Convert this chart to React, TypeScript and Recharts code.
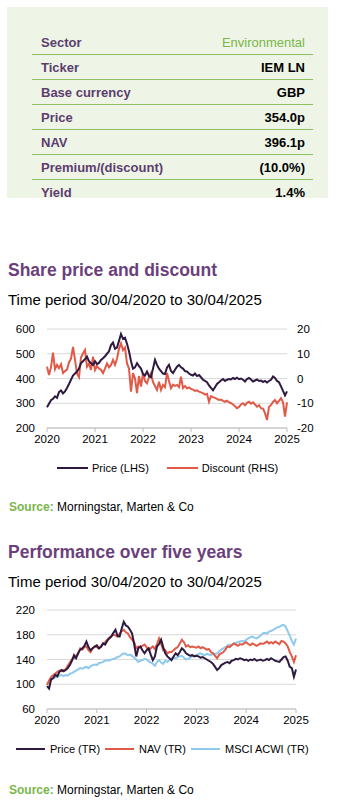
import React from "react";
import { LineChart, Line, XAxis, YAxis, CartesianGrid, Legend } from "recharts";

const FONT = "'Liberation Sans', Arial, Helvetica, sans-serif";
const HEAD = "#6b3f7b";
const LABEL = "#5c3d6e";
const GREEN = "#7ab648";
const PRICE_C = "#2e1a40";
const RED_C = "#e05a47";
const BLUE_C = "#8fc9ec";

// key facts table
const factLabels = ["Sector", "Ticker", "Base currency", "Price", "NAV", "Premium/(discount)", "Yield"];
const factValues = ["Environmental", "IEM LN", "GBP", "354.0p", "396.1p", "(10.0%)", "1.4%"];

// x axis: semi-monthly points 30/04/2020 .. 30/04/2025, labelled 2020..2025
const yearTicks = [2020, 2021, 2022, 2023, 2024, 2025];
const dates = Array.from({ length: 121 }, (_, i) => 2020 + i / 24);

// share price (p, LHS) and discount (%, RHS)
const sharePrice = [
  284, 298, 312, 318, 328, 322, 345, 352, 340, 348,
  362, 378, 395, 412, 420, 428, 440, 462, 470, 478,
  488, 470, 462, 455, 470, 458, 463, 475, 482, 490,
  500, 510, 535, 545, 520, 525, 552, 580, 560, 565,
  540, 510, 470, 440, 445, 462, 450, 440, 418, 412,
  428, 410, 405, 440, 475, 455, 440, 430, 420, 418,
  445, 455, 430, 422, 435, 448, 455, 445, 440, 430,
  428, 420, 415, 412, 420, 410, 414, 405, 395, 390,
  385, 372, 362, 352, 365, 378, 385, 392, 398, 390,
  395, 398, 396, 402, 398, 403, 397, 400, 395, 388,
  398, 402, 396, 388, 392, 396, 390, 392, 386, 390,
  384, 390, 395, 408, 402, 390, 385, 368, 350, 332,
  348,
];
const discount = [
  4.8, 1.4, 4.5, 10.5, 3.8, 5.5, 4.2, 5.8, 2.2, 3.0,
  3.6, 6.5, 8.0, 12.8, 7.5, 2.0, 0.5, 8.5, 10.2, 11.5,
  4.8, 6.0, 3.5, 8.8, 3.4, 5.0, 4.0, 3.5, 2.2, 4.0,
  6.1, 4.5, 5.5, 7.5, 5.5, 8.0, 12.0, 14.2, 11.5, 12.5,
  6.1, 4.0, -5.3, 2.2, 0.0, -5.9, 1.0, -3.3, 2.2, -1.0,
  -1.9, 0.5, 2.2, -1.5, -3.0, -4.6, -1.3, -4.6, -2.6, -3.5,
  2.2, -1.0, -3.9, -2.5, -3.0, -2.6, -3.5, 0.7, -3.9, -3.0,
  -4.0, -3.6, -4.2, -4.5, -5.0, -4.8, -5.3, -5.6, -5.9, -6.5,
  -6.2, -9.4, -7.1, -7.5, -7.8, -8.2, -8.7, -8.5, -9.0, -9.4,
  -9.0, -9.6, -10.0, -10.5, -11.2, -12.0, -11.5, -10.5, -10.0, -10.8,
  -9.8, -9.4, -10.2, -9.6, -10.5, -11.4, -10.8, -12.0, -12.2, -14.0,
  -16.8, -11.5, -10.7, -9.5, -8.7, -10.0, -9.0, -7.9, -9.5, -15.4,
  -9.6,
];

// total return, rebased to 100
const priceTR = [
  97, 93, 108, 110, 115, 113, 120, 123, 121, 123,
  126, 131, 138, 147, 142, 150, 156, 158, 162, 169,
  160, 155, 158, 161, 163, 158, 160, 166, 164, 170,
  174, 177, 183, 188, 178, 177, 190, 201, 195, 193,
  188, 182, 165, 145, 158, 161, 155, 150, 155, 158,
  148, 139, 145, 161, 165, 172, 160, 150, 145, 142,
  139, 145, 150, 147, 152, 158, 155, 150, 148, 146,
  147, 145, 146, 145, 143, 144, 142, 140, 138, 136,
  133, 128, 123, 126, 131, 133, 135, 136, 134, 138,
  139, 141, 140, 142, 141, 139, 140, 138, 140, 139,
  141, 138, 139, 140, 138, 139, 141, 139, 142, 140,
  138, 137, 136, 140, 144, 145, 138, 128, 126, 112,
  124,
];
const navTR = [
  99, 106, 112, 115, 117, 120, 122, 121, 123, 124,
  130, 135, 140, 142, 146, 150, 158, 156, 160, 161,
  155, 152, 158, 161, 160, 158, 162, 165, 168, 172,
  175, 178, 180, 179, 177, 182, 186, 188, 184, 182,
  176, 172, 168, 158, 161, 160, 162, 164, 160, 155,
  158, 161, 157, 165, 174, 165, 155, 155, 150, 152,
  152, 155, 158, 160, 166, 172, 168, 161, 163, 160,
  161, 160, 159, 161, 158, 160, 158, 156, 157, 152,
  150, 146, 142, 148, 150, 152, 156, 161, 160, 163,
  166, 164, 162, 165, 164, 166, 168, 165, 163, 166,
  164, 162, 164, 166, 165, 167, 169, 166, 168, 166,
  169, 167, 165, 170, 169, 166, 161, 152, 145, 136,
  147,
];
const msciTR = [
  99, 104, 107, 109, 111, 112, 114, 115, 113, 115,
  114, 117, 118, 120, 122, 124, 126, 125, 127, 128,
  126, 129, 131, 132, 131, 134, 135, 136, 138, 139,
  138, 140, 141, 142, 144, 145, 148, 150, 149, 147,
  148, 146, 143, 140, 136, 138, 139, 141, 140, 137,
  135, 133, 130, 136, 139, 135, 133, 138, 136, 139,
  141, 143, 142, 144, 145, 146, 143, 140, 141, 143,
  145, 146, 147, 149, 150, 148, 147, 149, 148, 147,
  150, 149, 150, 153, 156, 158, 160, 162, 164, 163,
  165, 167, 168, 169, 170, 169, 172, 174, 176, 177,
  175, 174, 176, 179, 182, 183, 182, 185, 186, 188,
  190, 192, 193, 195, 196, 193, 186, 178, 170, 164,
  174,
];

const priceTicks = [200, 300, 400, 500, 600];
const discountTicks = [-20, -10, 0, 10, 20];
const perfTicks = [60, 100, 140, 180, 220];

const discountData = dates.map((t, i) => ({ t, price: sharePrice[i], discount: discount[i] }));
const perfData = dates.map((t, i) => ({ t, price: priceTR[i], nav: navTR[i], msci: msciTR[i] }));

const tickStyle = { fontSize: 11.5, fill: "#000", fontFamily: FONT };

function LegendRow({ items, padLeft, itemGap, lineW, lineGap }: any) {
  return (
    <div style={{ display: "flex", alignItems: "center", paddingLeft: padLeft, gap: itemGap, fontFamily: FONT, fontSize: 11, color: "#000", height: 16 }}>
      {items.map((it: any) => (
        <div key={it.label} style={{ display: "flex", alignItems: "center", gap: lineGap }}>
          <span style={{ display: "inline-block", width: lineW, height: 2, background: it.color }} />
          <span>{it.label}</span>
        </div>
      ))}
    </div>
  );
}

function Source({ top }: { top: number }) {
  return (
    <div style={{ position: "absolute", left: 9, top, fontSize: 12, lineHeight: "14px", color: "#000" }}>
      <b style={{ color: GREEN }}>Source:</b> Morningstar, Marten &amp; Co
    </div>
  );
}

function Heading({ top, text }: { top: number; text: string }) {
  return (
    <div style={{ position: "absolute", left: 8, top, fontSize: 17.5, fontWeight: 700, color: HEAD, lineHeight: "20px" }}>{text}</div>
  );
}

function Period({ top }: { top: number }) {
  return (
    <div style={{ position: "absolute", left: 8, top, fontSize: 15, color: "#000", lineHeight: "18px" }}>
      Time period 30/04/2020 to 30/04/2025
    </div>
  );
}

export default function App() {
  return (
    <div style={{ position: "absolute", left: 0, top: 0, width: 337, height: 806, background: "#fff", fontFamily: FONT, overflow: "hidden" }}>
      <div style={{ position: "absolute", left: 7, top: 7, width: 321, height: 191, background: "#eef5e7" }} />
      <div style={{ position: "absolute", left: 32, top: 30, width: 281 }}>
        {factLabels.map((label, i) => (
          <div
            key={label}
            style={{
              height: 25,
              boxSizing: "border-box",
              borderBottom: i < factLabels.length - 1 ? "1.5px solid #8cc063" : "none",
              display: "flex",
              alignItems: "center",
              justifyContent: "space-between",
              padding: "0 8px 0 9px",
              fontSize: 13,
            }}
          >
            <span style={{ color: LABEL, fontWeight: 700 }}>{label}</span>
            <span style={{ color: i === 0 ? GREEN : "#000", fontWeight: i === 0 ? 400 : 700 }}>{factValues[i]}</span>
          </div>
        ))}
      </div>

      <Heading top={260} text="Share price and discount" />
      <Period top={291} />

      <div style={{ position: "absolute", left: 0, top: 319 }}>
        <LineChart width={337} height={160} data={discountData} margin={{ top: 10, right: 0, bottom: 21, left: 0 }}>
          <CartesianGrid yAxisId="left" horizontal vertical={false} stroke="#d9d9d9" />
          <XAxis
            dataKey="t"
            type="number"
            domain={[2020, 2025]}
            ticks={yearTicks}
            interval={0}
            height={30}
            tick={tickStyle}
            tickSize={4}
            tickMargin={3}
            axisLine={{ stroke: "#bfbfbf" }}
            tickLine={{ stroke: "#bfbfbf" }}
          />
          <YAxis yAxisId="left" width={47} domain={[200, 600]} ticks={priceTicks} tick={tickStyle} axisLine={false} tickLine={false} tickSize={0} tickMargin={12} />
          <YAxis yAxisId="right" orientation="right" width={50} domain={[-20, 20]} ticks={discountTicks} tick={{ ...tickStyle, textAnchor: "start" }} axisLine={false} tickLine={false} tickSize={0} tickMargin={10} />
          <Line yAxisId="right" dataKey="discount" name="Discount (RHS)" stroke={RED_C} strokeWidth={2} dot={false} isAnimationActive={false} />
          <Line yAxisId="left" dataKey="price" name="Price (LHS)" stroke={PRICE_C} strokeWidth={2} dot={false} isAnimationActive={false} />
          <Legend
            verticalAlign="middle"
            align="center"
            layout="horizontal"
            wrapperStyle={{ top: 141, left: 0, width: 337, height: 16 }}
            content={() => (
              <LegendRow
                padLeft={57}
                itemGap={18}
                lineW={31}
                lineGap={4}
                items={[
                  { label: "Price (LHS)", color: PRICE_C },
                  { label: "Discount (RHS)", color: RED_C },
                ]}
              />
            )}
          />
        </LineChart>
      </div>

      <Source top={500} />

      <Heading top={542} text="Performance over five years" />
      <Period top={573} />

      <div style={{ position: "absolute", left: 0, top: 600 }}>
        <LineChart width={337} height={160} data={perfData} margin={{ top: 10, right: 41, bottom: 21, left: 0 }}>
          <CartesianGrid horizontal vertical={false} stroke="#d9d9d9" />
          <XAxis
            dataKey="t"
            type="number"
            domain={[2020, 2025]}
            ticks={yearTicks}
            interval={0}
            height={30}
            tick={tickStyle}
            tickSize={4}
            tickMargin={3}
            axisLine={{ stroke: "#bfbfbf" }}
            tickLine={{ stroke: "#bfbfbf" }}
          />
          <YAxis width={47} domain={[60, 220]} ticks={perfTicks} tick={tickStyle} axisLine={false} tickLine={false} tickSize={0} tickMargin={12} />
          <Line dataKey="msci" name="MSCI ACWI (TR)" stroke={BLUE_C} strokeWidth={2} dot={false} isAnimationActive={false} />
          <Line dataKey="nav" name="NAV (TR)" stroke={RED_C} strokeWidth={2} dot={false} isAnimationActive={false} />
          <Line dataKey="price" name="Price (TR)" stroke={PRICE_C} strokeWidth={2} dot={false} isAnimationActive={false} />
          <Legend
            verticalAlign="middle"
            align="center"
            layout="horizontal"
            wrapperStyle={{ top: 141, left: 0, width: 337, height: 16 }}
            content={() => (
              <LegendRow
                padLeft={16}
                itemGap={5}
                lineW={29}
                lineGap={5}
                items={[
                  { label: "Price (TR)", color: PRICE_C },
                  { label: "NAV (TR)", color: RED_C },
                  { label: "MSCI ACWI (TR)", color: BLUE_C },
                ]}
              />
            )}
          />
        </LineChart>
      </div>

      <Source top={783} />
    </div>
  );
}
